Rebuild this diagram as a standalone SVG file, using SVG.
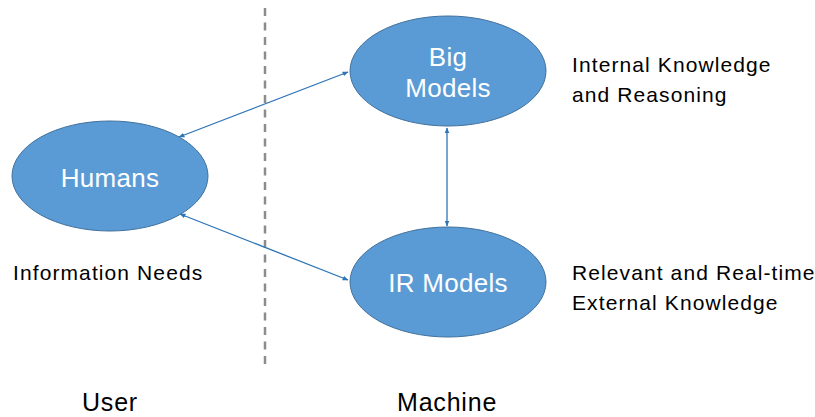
<svg xmlns="http://www.w3.org/2000/svg" width="815" height="417" viewBox="0 0 815 417">
<style>
.node{fill:#5B9BD5;stroke:#41719C;stroke-width:1}
.nl{font-family:"Liberation Sans",Arial,sans-serif;font-size:26px;fill:#FFFFFF;text-anchor:middle;letter-spacing:0.3px}
.lb{font-family:"Liberation Sans",Arial,sans-serif;font-size:21px;fill:#000000;letter-spacing:1.1px}
.big{font-family:"Liberation Sans",Arial,sans-serif;font-size:25px;fill:#000000;letter-spacing:0.8px}
.conn{stroke:#2E75B6;stroke-width:1.3;fill:none;marker-start:url(#ah);marker-end:url(#ah)}
</style>
<defs>
<marker id="ah" viewBox="0 0 10 10" refX="9" refY="5" markerWidth="6" markerHeight="6" orient="auto-start-reverse" markerUnits="userSpaceOnUse">
<path d="M0,1 L10,5 L0,9 z" fill="#2E75B6"/>
</marker>
</defs>
<rect width="815" height="417" fill="#FFFFFF"/>
<line x1="265" y1="8" x2="265" y2="366" stroke="#8C8C8C" stroke-width="2.5" stroke-dasharray="8,6.5"/>
<g id="connectors">
<line class="conn" x1="179" y1="137" x2="348" y2="72"/>
<line class="conn" x1="180" y1="214" x2="348" y2="280"/>
<line class="conn" x1="447" y1="128" x2="447" y2="226"/>
</g>
<g id="humans">
<ellipse class="node" cx="110" cy="176" rx="98" ry="55"/>
<text class="nl" x="110" y="187">Humans</text>
</g>
<g id="big-models">
<ellipse class="node" cx="448" cy="71" rx="98" ry="55"/>
<text class="nl" x="448" y="66">Big</text>
<text class="nl" x="448" y="97">Models</text>
</g>
<g id="ir-models">
<ellipse class="node" cx="448" cy="282" rx="98" ry="55"/>
<text class="nl" x="448" y="292">IR Models</text>
</g>
<g id="labels">
<text class="lb" x="572" y="72">Internal Knowledge</text>
<text class="lb" x="572" y="102">and Reasoning</text>
<text class="lb" x="572" y="280">Relevant and Real-time</text>
<text class="lb" x="572" y="310">External Knowledge</text>
<text class="lb" x="13" y="280">Information Needs</text>
<text class="big" x="82" y="411">User</text>
<text class="big" x="397" y="411">Machine</text>
</g>
</svg>
